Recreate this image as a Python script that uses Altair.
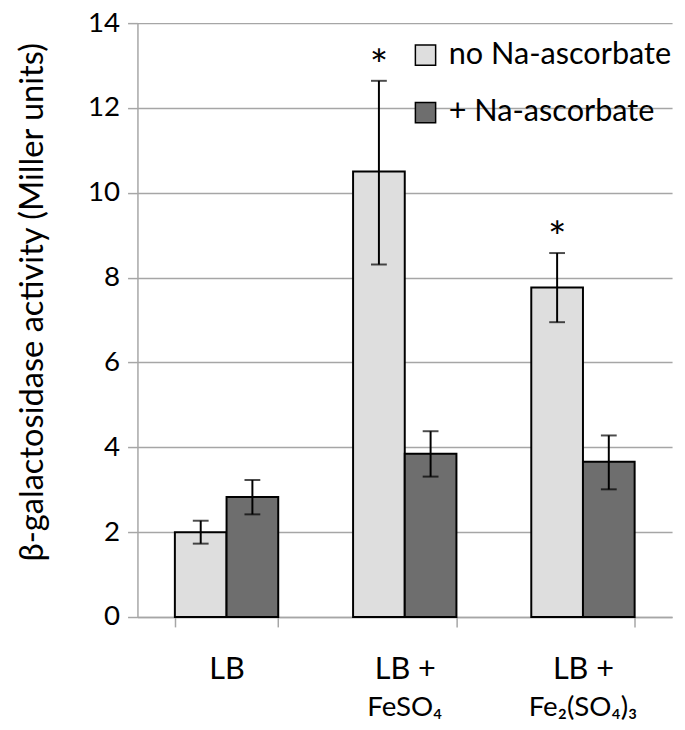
import altair as alt
import pandas as pd

categories = ["LB", "LB + FeSO₄", "LB + Fe₂(SO₄)₃"]
first_line = ["LB", "LB +", "LB +"]
second_line = ["", "FeSO₄", "Fe₂(SO₄)₃"]
series = ["no Na-ascorbate", "+ Na-ascorbate"]

no_asc = [2.0, 10.5, 7.77]
no_asc_lo = [1.73, 8.31, 6.95]
no_asc_hi = [2.27, 12.64, 8.58]
no_asc_star = ["", "*", "*"]

asc = [2.83, 3.85, 3.66]
asc_lo = [2.42, 3.31, 3.01]
asc_hi = [3.23, 4.38, 4.28]
asc_star = ["", "", ""]

y_ticks = [0, 2, 4, 6, 8, 10, 12, 14]
Y_TITLE = "β-galactosidase activity (Miller units)"
FONT = "Lato"
GRAY = "#a6a6a6"

rows = []
for i, c in enumerate(categories):
    rows.append(dict(cat=c, series=series[0], value=no_asc[i], lo=no_asc_lo[i], hi=no_asc_hi[i], star=no_asc_star[i]))
    rows.append(dict(cat=c, series=series[1], value=asc[i], lo=asc_lo[i], hi=asc_hi[i], star=asc_star[i]))
df = pd.DataFrame(rows)
sub_df = pd.DataFrame(dict(cat=categories, sub=second_line))

W, H = 541, 601

label_expr = " : ".join(
    [f"datum.value == '{c}' ? '{f}'" for c, f in zip(categories, first_line)] + ["''"]
)

x_enc = alt.X(
    "cat:N", sort=categories, title=None,
    scale=alt.Scale(paddingInner=0.42, paddingOuter=0.21),
    axis=alt.Axis(labelExpr=label_expr, tickBand="extent", tickSize=10, labelPadding=28,
                  labelFontSize=31, labelFont=FONT, labelColor="black", labelAngle=0,
                  domainColor=GRAY, domainWidth=1.5, tickColor=GRAY, tickWidth=1.5, grid=False),
)
xo = alt.XOffset("series:N", sort=series, scale=alt.Scale(paddingInner=0, paddingOuter=0))
y_scale = alt.Scale(domain=[0, 14])

base = alt.Chart(df).encode(x=x_enc, xOffset=xo)

bars = base.mark_bar(stroke="black", strokeWidth=2).encode(
    y=alt.Y("value:Q", scale=y_scale, title=Y_TITLE,
            axis=alt.Axis(values=y_ticks, tickSize=10, labelPadding=8, labelFontSize=28, labelFont=FONT,
                          labelColor="black", titleFont=FONT, titleFontSize=33, titleFontWeight="normal",
                          titleColor="black", titlePadding=39, titleY=282,
                          domainColor=GRAY, domainWidth=1.5, tickColor=GRAY, tickWidth=1.5,
                          gridColor=GRAY, gridWidth=1.5)),
    color=alt.Color("series:N", sort=series,
                    scale=alt.Scale(domain=series, range=["#dedede", "#6e6e6e"]),
                    legend=alt.Legend(title=None, orient="none", legendX=276, legendY=17,
                                      symbolType="square", symbolSize=420, symbolStrokeColor="black",
                                      symbolStrokeWidth=1.5, labelFontSize=31, labelFont=FONT,
                                      labelColor="black", rowPadding=26, labelOffset=8, padding=0,
                                      labelLimit=400)),
)

err = base.mark_rule(color="black", strokeWidth=2).encode(
    y=alt.Y("lo:Q", scale=y_scale, title=Y_TITLE), y2="hi:Q"
)
cap_hi = base.mark_tick(color="black", thickness=2, size=16, orient="horizontal").encode(
    y=alt.Y("hi:Q", scale=y_scale, title=Y_TITLE)
)
cap_lo = base.mark_tick(color="black", thickness=2, size=16, orient="horizontal").encode(
    y=alt.Y("lo:Q", scale=y_scale, title=Y_TITLE)
)
stars = base.mark_text(fontSize=44, font=FONT, color="black", baseline="middle", dy=-14).encode(
    y=alt.Y("hi:Q", scale=y_scale, title=Y_TITLE), text="star:N"
)

sub_labels = alt.Chart(sub_df).mark_text(fontSize=28, font=FONT, color="black", baseline="middle").encode(
    x=alt.X("cat:N", sort=categories, title=None),
    y=alt.value(H + 92),
    text="sub:N",
)

chart = alt.layer(bars, err, cap_hi, cap_lo, stars, sub_labels).properties(
    width=W, height=H,
    autosize=alt.AutoSizeParams(type="none"),
    padding={"left": 131, "top": 11, "right": 5, "bottom": 108},
).configure_view(stroke=None).configure_axisY(grid=True)

chart.save("out.html", embed_options={"renderer": "svg", "actions": False})
